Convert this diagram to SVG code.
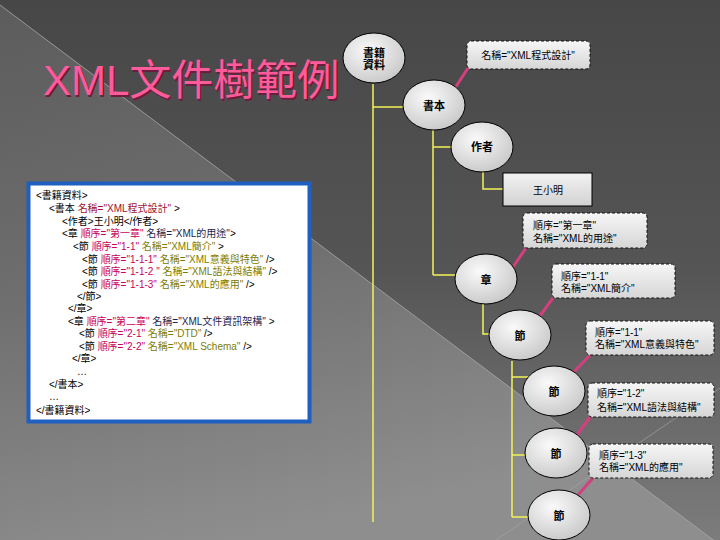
<svg xmlns="http://www.w3.org/2000/svg" width="720" height="540" viewBox="0 0 720 540">
<style>
.t{font-family:"Liberation Sans","Noto Sans CJK TC",sans-serif;fill:#000}
.code{font-size:10px}
.lbl{font-size:11px;font-weight:bold;text-anchor:middle}
.cl{font-size:10px}
.node{fill:url(#ng);stroke:#000;stroke-width:1}
.call{fill:url(#cg);stroke:#111;stroke-width:1;stroke-dasharray:3 2}
.yl{fill:none;stroke:#f2f25a;stroke-width:1.5}
.pk{stroke:#d2407e;stroke-width:3;stroke-linecap:butt}
.sx{fill:#c8005a}
.ol{fill:#7d7d00}
.nv{fill:#1d2550}
.dr{fill:#a0102a}
</style>
<defs>
<linearGradient id="bg" x1="0" y1="0" x2="0" y2="1">
<stop offset="0" stop-color="#474747"/>
<stop offset="0.5" stop-color="#555555"/>
<stop offset="1" stop-color="#7c7c7c"/>
</linearGradient>
<linearGradient id="tri" x1="0" y1="0" x2="0.3" y2="1">
<stop offset="0" stop-color="#5c5c5c"/>
<stop offset="0.5" stop-color="#6e6e6e"/>
<stop offset="1" stop-color="#8e8e8e"/>
</linearGradient>
<radialGradient id="ng" cx="0.4" cy="0.35" r="0.75">
<stop offset="0" stop-color="#fafafa"/>
<stop offset="1" stop-color="#c4c4c4"/>
</radialGradient>
<linearGradient id="cg" x1="0" y1="0" x2="0" y2="1">
<stop offset="0" stop-color="#f6f6f6"/>
<stop offset="1" stop-color="#d6d6d6"/>
</linearGradient>
<linearGradient id="rg" x1="0" y1="0" x2="0" y2="1">
<stop offset="0" stop-color="#f2f2f2"/>
<stop offset="1" stop-color="#d2d2d2"/>
</linearGradient>
</defs>

<g id="background">
<rect x="0" y="0" width="720" height="540" fill="url(#bg)"/>
<polygon points="0,5 720,545 0,545" fill="url(#tri)"/>
<line x1="0" y1="5" x2="720" y2="545" stroke="#a8a8a8" stroke-width="1" opacity="0.8"/>
<line x1="496" y1="540" x2="720" y2="388" stroke="#a8a8a8" stroke-width="1" opacity="0.6"/>
</g>

<g id="title">
<text class="t" x="44.5" y="96.5" font-size="42" style="fill:#6a1e3c">XML文件樹範例</text>
<text class="t" x="43" y="95" font-size="42" style="fill:#ff5a9a">XML文件樹範例</text>
</g>

<g id="code-box">
<rect x="28.5" y="183.5" width="281" height="238" fill="#ffffff" stroke="#1f5fc0" stroke-width="4"/>
<g class="t code" xml:space="preserve">
<text x="36" y="199">&lt;書籍資料&gt;</text>
<text x="49" y="212">&lt;書本 <tspan class="dr">名稱="XML程式設計"</tspan> &gt;</text>
<text x="62" y="225">&lt;作者&gt;王小明&lt;/作者&gt;</text>
<text x="62" y="237">&lt;章  <tspan class="sx">順序="第一章"</tspan> <tspan class="nv">名稱="XML的用途"</tspan>&gt;</text>
<text x="73" y="250">&lt;節  <tspan class="sx">順序="1-1"</tspan> <tspan class="ol">名稱="XML簡介"</tspan> &gt;</text>
<text x="82" y="263">&lt;節  <tspan class="sx">順序="1-1-1"</tspan> <tspan class="ol">名稱="XML意義與特色"</tspan> /&gt;</text>
<text x="82" y="275">&lt;節  <tspan class="sx">順序="1-1-2 "</tspan> <tspan class="ol">名稱="XML語法與結構"</tspan> /&gt;</text>
<text x="82" y="288">&lt;節  <tspan class="sx">順序="1-1-3"</tspan>  <tspan class="ol">名稱="XML的應用"</tspan> /&gt;</text>
<text x="77" y="300">&lt;/節&gt;</text>
<text x="68" y="312">&lt;/章&gt;</text>
<text x="68" y="325">&lt;章  <tspan class="sx">順序="第二章"</tspan> <tspan class="nv">名稱="XML文件資訊架構"</tspan> &gt;</text>
<text x="79" y="337">&lt;節  <tspan class="sx">順序="2-1"</tspan>  <tspan class="ol">名稱="DTD"</tspan>  /&gt;</text>
<text x="79" y="350">&lt;節  <tspan class="sx">順序="2-2"</tspan>  <tspan class="ol">名稱="XML Schema"</tspan>  /&gt;</text>
<text x="72" y="362">&lt;/章&gt;</text>
<text x="77" y="375">…</text>
<text x="49" y="388">&lt;/書本&gt;</text>
<text x="49" y="400">…</text>
<text x="36" y="414">&lt;/書籍資料&gt;</text>
</g>
</g>

<g id="connectors">
<path class="yl" d="M373,84 V522 M373,107 H420"/>
<path class="yl" d="M433,130 V275 M433,147 H470 M433,275 H470"/>
<path class="yl" d="M483,172 V189 H510"/>
<path class="yl" d="M483,304 V334 H505"/>
<path class="yl" d="M512,361 V517 M512,377 H540 M512,455 H540 M512,517 H545"/>
<line class="pk" x1="468" y1="68" x2="455" y2="88"/>
<line class="pk" x1="526" y1="248" x2="513" y2="267"/>
<line class="pk" x1="553" y1="298" x2="539" y2="317"/>
<line class="pk" x1="590" y1="355" x2="573" y2="373"/>
<line class="pk" x1="590" y1="417" x2="577" y2="435"/>
<line class="pk" x1="593" y1="478" x2="578" y2="495"/>
</g>

<g id="node-shuji">
<ellipse class="node" cx="374" cy="58" rx="31" ry="25"/>
<text class="t lbl" x="374" y="57">書籍</text>
<text class="t lbl" x="374" y="69">資料</text>
</g>
<g id="node-shuben">
<ellipse class="node" cx="434" cy="105" rx="31" ry="25"/>
<text class="t lbl" x="434" y="110">書本</text>
</g>
<g id="node-zuozhe">
<ellipse class="node" cx="482" cy="147" rx="31" ry="25"/>
<text class="t lbl" x="482" y="151">作者</text>
</g>
<g id="node-wang">
<rect x="503" y="173" width="89" height="33" fill="url(#rg)" stroke="#000" stroke-width="1"/>
<text class="t cl" x="548" y="194" text-anchor="middle">王小明</text>
</g>
<g id="node-zhang">
<ellipse class="node" cx="486" cy="279" rx="31" ry="25"/>
<text class="t lbl" x="486" y="284">章</text>
</g>
<g id="node-jie1">
<ellipse class="node" cx="520" cy="335" rx="31" ry="25"/>
<text class="t lbl" x="520" y="340">節</text>
</g>
<g id="node-jie2">
<ellipse class="node" cx="554" cy="391" rx="31" ry="25"/>
<text class="t lbl" x="554" y="396">節</text>
</g>
<g id="node-jie3">
<ellipse class="node" cx="556" cy="453" rx="31" ry="25"/>
<text class="t lbl" x="556" y="458">節</text>
</g>
<g id="node-jie4">
<ellipse class="node" cx="559" cy="515" rx="31" ry="25"/>
<text class="t lbl" x="559" y="520">節</text>
</g>

<g id="callout-book">
<rect class="call" x="467" y="41" width="123" height="28" rx="4"/>
<text class="t cl" x="528" y="59" text-anchor="middle">名稱="XML程式設計"</text>
</g>
<g id="callout-ch1">
<rect class="call" x="523" y="213" width="124" height="35" rx="4"/>
<text class="t cl" x="533" y="229">順序="第一章"</text>
<text class="t cl" x="533" y="242">名稱="XML的用途"</text>
</g>
<g id="callout-s11">
<rect class="call" x="552" y="264" width="123" height="34" rx="4"/>
<text class="t cl" x="561" y="280">順序="1-1"</text>
<text class="t cl" x="561" y="292">名稱="XML簡介"</text>
</g>
<g id="callout-s111">
<rect class="call" x="586" y="321" width="128" height="34" rx="4"/>
<text class="t cl" x="595" y="336">順序="1-1"</text>
<text class="t cl" x="595" y="348">名稱="XML意義與特色"</text>
</g>
<g id="callout-s112">
<rect class="call" x="588" y="383" width="126" height="34" rx="4"/>
<text class="t cl" x="597" y="397">順序="1-2"</text>
<text class="t cl" x="597" y="411">名稱="XML語法與結構"</text>
</g>
<g id="callout-s113">
<rect class="call" x="589" y="444" width="124" height="34" rx="4"/>
<text class="t cl" x="599" y="459">順序="1-3"</text>
<text class="t cl" x="599" y="471">名稱="XML的應用"</text>
</g>
</svg>
